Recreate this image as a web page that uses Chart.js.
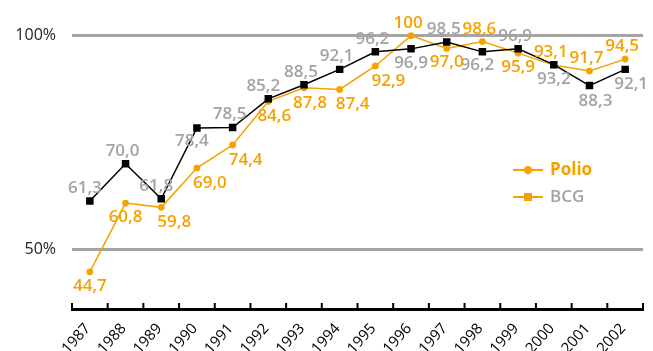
<!DOCTYPE html>
<html>
<head>
<meta charset="utf-8">
<script src="https://cdn.jsdelivr.net/npm/chart.js@4.4.1/dist/chart.umd.min.js"></script>
<style>
  html, body { margin: 0; padding: 0; background: #fff; }
  #wrap { position: relative; width: 653px; height: 351px; }
  .legend { position: absolute; left: 513px; top: 157px; font-family: "Open Sans", sans-serif; }
  .row { position: relative; height: 27px; }
  .row .line { position: absolute; left: 0; top: 12px; width: 30px; height: 2px; background: #f5a200; }
  .row .mk { position: absolute; background: #f5a200; }
  .row .dot { left: 11px; top: 9px; width: 8px; height: 8px; border-radius: 50%; }
  .row .sq { left: 11px; top: 9px; width: 8px; height: 8px; }
  .row .txt { position: absolute; left: 37px; top: -1px; font-size: 17px; font-weight: 700; line-height: 26px; }
</style>
</head>
<body>
<div id="wrap">
  <canvas id="chart" width="653" height="351"></canvas>
  <div class="legend">
    <div class="row"><span class="line"></span><span class="mk dot"></span><span class="txt" style="color:#f5a200">Polio</span></div>
    <div class="row"><span class="line"></span><span class="mk sq"></span><span class="txt" style="color:#a3a3a3;font-weight:600">BCG</span></div>
  </div>
</div>
<script>
// dữ liệu
const years = ['1987', '1988', '1989', '1990', '1991', '1992', '1993', '1994',
               '1995', '1996', '1997', '1998', '1999', '2000', '2001', '2002'];
const bcg = [61.3, 70.0, 61.8, 78.4, 78.5, 85.2, 88.5, 92.1, 96.2, 96.9, 98.5, 96.2, 96.9, 93.2, 88.3, 92.1];
const polio = [44.7, 60.8, 59.8, 69.0, 74.4, 84.6, 87.8, 87.4, 92.9, 100, 97.0, 98.6, 95.9, 93.1, 91.7, 94.5];
const yTicks = [50, 100];

// vị trí nhãn: a = trên, b = dưới, br = dưới phải, bl = dưới trái
const bcgPlace = ['aL', 'a', 'aL', 'bl', 'a', 'aL', 'a', 'a', 'a', 'b', 'a', 'bl', 'a', 'b', 'bR', 'bR'];
const polioPlace = ['b', 'b', 'br', 'br', 'br', 'bR', 'bR', 'br', 'br', 'a', 'b', 'a', 'b', 'a', 'a', 'a'];

const ORANGE = '#f5a200';
const GREY = '#a3a3a3';
const FONT = '"Open Sans", sans-serif';

const shifts = {
  a:  { dx: -3, dy: -14 },
  aL: { dx: -5, dy: -14 },
  b:  { dx: 0,  dy: 13 },
  bl: { dx: -5, dy: 12 },
  bR: { dx: 6,  dy: 14 },
  br: { dx: 13, dy: 14 }
};

function fmt(v) {
  return v === 100 ? '100' : v.toFixed(1).replace('.', ',');
}

// plugin vẽ nhãn giá trị
const valueLabels = {
  id: 'valueLabels',
  afterDatasetsDraw(chart) {
    const ctx = chart.ctx;
    ctx.save();
    ctx.textAlign = 'center';
    ctx.textBaseline = 'alphabetic';
    chart.data.datasets.forEach((ds, di) => {
      const meta = chart.getDatasetMeta(di);
      ctx.fillStyle = ds.labelColor;
      ctx.font = '600 17px ' + FONT;
      meta.data.forEach((pt, i) => {
        const s = shifts[ds.places[i]];
        ctx.fillText(fmt(ds.data[i]), pt.x + s.dx, pt.y + s.dy + 6);
      });
    });
    ctx.restore();
  }
};

// vạch chia trục x hướng lên trên
const innerTicks = {
  id: 'innerTicks',
  afterDraw(chart) {
    const xs = chart.scales.x;
    const ctx = chart.ctx;
    ctx.save();
    ctx.strokeStyle = '#000';
    ctx.lineWidth = 2;
    ctx.beginPath();
    for (let i = 0; i <= years.length; i++) {
      const x = xs.getPixelForValue(i - 0.5);
      ctx.moveTo(x, xs.top);
      ctx.lineTo(x, xs.top - 6);
    }
    ctx.stroke();
    ctx.restore();
  }
};

document.addEventListener('DOMContentLoaded', function() {
  const ctx = document.getElementById('chart').getContext('2d');

  new Chart(ctx, {
    type: 'line',
    data: {
      labels: years,
      datasets: [{
        label: 'BCG',
        data: bcg,
        places: bcgPlace,
        labelColor: GREY,
        borderColor: '#000',
        borderWidth: 1.5,
        pointStyle: 'rect',
        pointRadius: 5.3,
        pointBackgroundColor: '#000',
        pointBorderWidth: 0,
        tension: 0
      }, {
        label: 'Polio',
        data: polio,
        places: polioPlace,
        labelColor: ORANGE,
        borderColor: ORANGE,
        borderWidth: 1.5,
        pointStyle: 'circle',
        pointRadius: 3.4,
        pointBackgroundColor: ORANGE,
        pointBorderWidth: 0,
        tension: 0
      }]
    },
    options: {
      responsive: false,
      animation: false,
      layout: { padding: { top: 10, right: 10, left: 0, bottom: 0 } },
      plugins: { legend: { display: false }, tooltip: { enabled: false } },
      scales: {
        x: {
          offset: true,
          grid: { display: false },
          border: { display: true, color: '#000', width: 3 },
          ticks: {
            autoSkip: false, minRotation: 48, maxRotation: 48, padding: 3, labelOffset: -2,
            color: '#000', font: { family: FONT, size: 15 }
          },
          afterFit: s => { s.height = 42; s.paddingLeft = 0; s.paddingRight = 0; }
        },
        y: {
          min: 36,
          max: 106,
          afterBuildTicks: axis => { axis.ticks = yTicks.map(v => ({ value: v })); },
          grid: { color: '#a5a5a5', lineWidth: 3, drawTicks: false },
          border: { display: false },
          ticks: {
            padding: 16, color: '#222', font: { family: FONT, size: 16 },
            callback: v => v + '%'
          },
          afterFit: s => { s.width = 72; s.paddingTop = 0; s.paddingBottom = 0; }
        }
      }
    },
    plugins: [valueLabels, innerTicks]
  });
});
</script>
</body>
</html>
